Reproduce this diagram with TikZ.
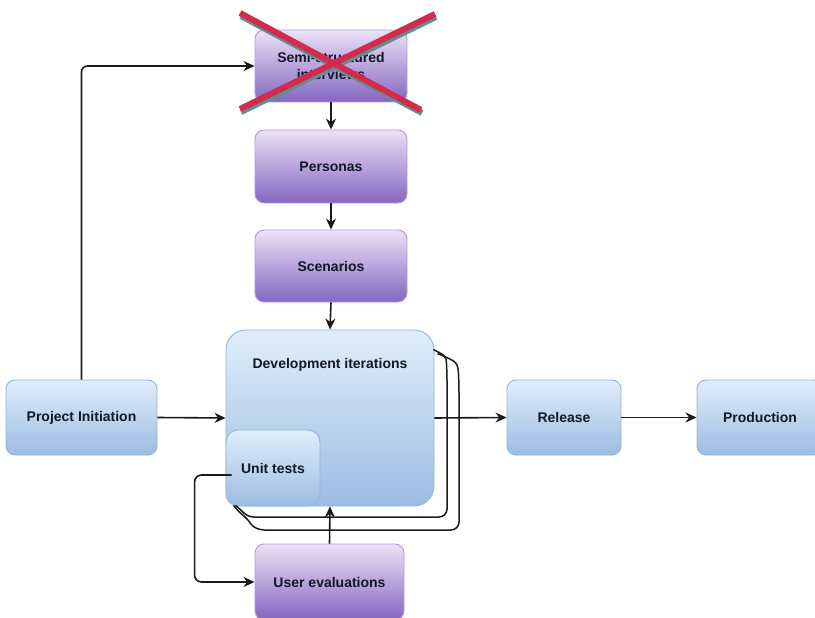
\documentclass[tikz,border=0pt]{standalone}
\usepackage{fontspec}
\setmainfont{Liberation Sans}
\usetikzlibrary{arrows.meta}
\definecolor{bluetop}{HTML}{E0EEFA}
\definecolor{bluebot}{HTML}{9CBCE3}
\definecolor{blueline}{HTML}{92B4DC}
\definecolor{purtop}{HTML}{ECE1F7}
\definecolor{purbot}{HTML}{8566C0}
\definecolor{purline}{HTML}{B39CDA}
\definecolor{crossred}{HTML}{D22B4E}
\definecolor{crossshadow}{HTML}{5E8F92}
\definecolor{linecol}{HTML}{1A1A1A}
\definecolor{textcol}{HTML}{111827}
\tikzset{
  bluebox/.style={draw=blueline, line width=0.9pt, rounded corners=9pt, top color=bluetop, bottom color=bluebot, inner sep=0pt, font=\bfseries\fontsize{14}{17}\selectfont, text=textcol, align=center},
  purbox/.style={draw=purline, line width=0.9pt, rounded corners=9pt, top color=purtop, bottom color=purbot, inner sep=0pt, font=\bfseries\fontsize{14}{17}\selectfont, text=textcol, align=center},
  conn/.style={draw=linecol, line width=1.6pt, -{Stealth[length=11pt,width=10pt]}},
  plainconn/.style={draw=linecol, line width=1.5pt},
}
\begin{document}
\begin{tikzpicture}[x=1pt,y=-1pt]
\useasboundingbox (0,0) rectangle (815,618);
% nodes
\node[purbox, minimum width=152pt, minimum height=72pt] (semi) at (331,66) {Semi-structured\\interviews};
\node[purbox, minimum width=152pt, minimum height=73pt] (pers) at (331,166.5) {Personas};
\node[purbox, minimum width=152pt, minimum height=72pt] (scen) at (331,266) {Scenarios};
\node[bluebox, rounded corners=20pt, minimum width=208pt, minimum height=176pt] (dev) at (330,418) {};
\node[font=\bfseries\fontsize{14}{17}\selectfont, text=textcol] (devlab) at (330,365) {Development iterations};
\node[bluebox, rounded corners=12pt, minimum width=94pt, minimum height=76pt] (ut) at (273,468) {Unit tests};
\node[bluebox, minimum width=151pt, minimum height=75pt] (pi) at (81.5,417.5) {Project Initiation};
\node[bluebox, minimum width=114pt, minimum height=75pt] (rel) at (564,417.5) {Release};
\node[bluebox, minimum width=126pt, minimum height=75pt] (prod) at (760,417.5) {Production};
\node[purbox, minimum width=149pt, minimum height=76pt] (ue) at (329.5,582) {User evaluations};
% connectors
\draw[conn, rounded corners=6pt] (pi.north) |- (semi.west);
\draw[conn] (semi.south) -- (pers.north);
\draw[conn] (pers.south) -- (scen.north);
\draw[conn] (scen.south) -- (dev.north);
\draw[conn] (pi.east) -- (dev.west);
\draw[conn] (dev.east) -- (rel.west);
\draw[conn] (rel.east) -- (prod.west);
\draw[conn] (ue.north) -- (dev.south);
\draw[conn, rounded corners=7pt] ([xshift=6pt,yshift=-7pt]ut.west) -- ++(-37,0) |- (ue.west);
% iteration loops
\draw[plainconn, rounded corners=8pt] ([xshift=-1pt,yshift=-20pt]dev.north east) .. controls (446,356) .. (447,372) -- (447,517) -- (253,517);
\draw[plainconn] (253,517) .. controls (244,516) and (242,510) .. ([xshift=10pt,yshift=1pt]dev.south west);
\draw[plainconn, rounded corners=8pt] ([xshift=3pt,yshift=-24pt]dev.north east) .. controls (458,362) .. (459,385) -- (459,530) -- (264,530);
\draw[plainconn] (264,530) .. controls (250,529) and (250,520) .. (244,516) .. controls (240,513) .. ([xshift=8pt,yshift=1pt]dev.south west);
% red cross over the semi-structured interviews box
\draw[crossshadow, line width=6pt] (241,16) -- (422,113);
\draw[crossshadow, line width=6pt] (436,17) -- (241,112);
\draw[crossred, line width=6pt] (240,13) -- (421,110);
\draw[crossred, line width=6pt] (435,14) -- (240,109);
\end{tikzpicture}
\end{document}
